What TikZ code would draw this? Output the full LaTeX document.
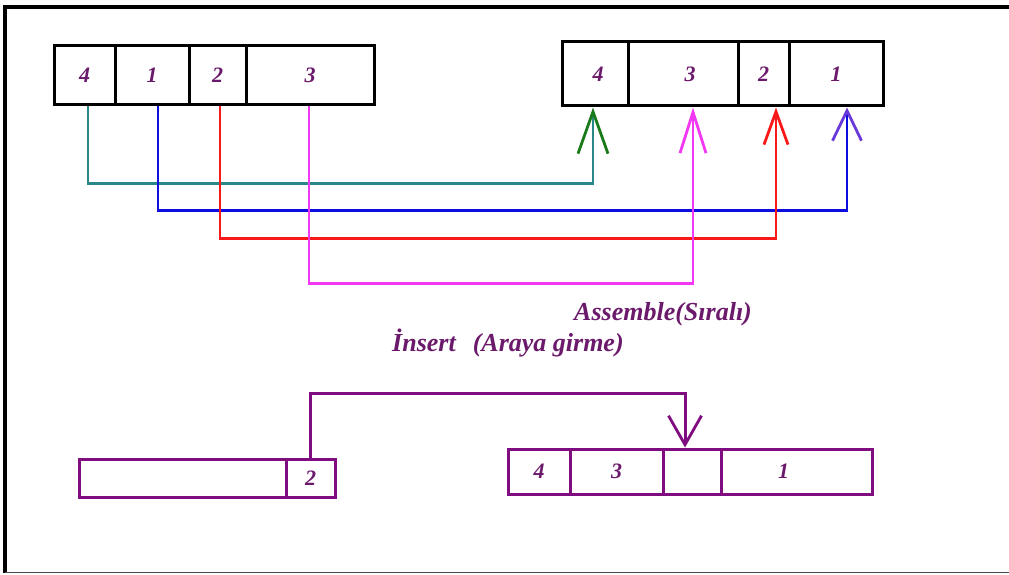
\documentclass[tikz,border=0pt]{standalone}
\usepackage{fontspec}
\setmainfont{Liberation Serif}
\usetikzlibrary{arrows.meta}
\definecolor{numpurple}{rgb}{0.42,0.10,0.42}
\definecolor{linepurple}{rgb}{0.50,0.05,0.50}
\definecolor{tealc}{rgb}{0.16,0.53,0.53}
\definecolor{greenhead}{rgb}{0.10,0.48,0.10}
\definecolor{bluec}{rgb}{0.05,0.05,0.88}
\definecolor{violethead}{rgb}{0.42,0.22,0.85}
\definecolor{redc}{rgb}{0.98,0.10,0.10}
\definecolor{magc}{rgb}{0.95,0.22,0.95}
\tikzset{
  x=1pt, y=-1pt,
  num/.style={font=\fontsize{22}{22}\selectfont\bfseries\itshape, text=numpurple},
  cell/.style={draw=black, line width=3pt, rectangle, inner sep=0pt, num},
  pcell/.style={draw=linepurple, line width=3pt, rectangle, inner sep=0pt, num},
  caption/.style={font=\fontsize{26}{26}\selectfont\bfseries\itshape, text=numpurple, inner sep=0pt},
  wire/.style={line width=2.8pt},
  head/.style n args={4}{-{Straight Barb[length=#1, width=#2, line width=2.8pt, color=#3]}, draw=#4}
}
\begin{document}
\begin{tikzpicture}
\useasboundingbox (0,0) rectangle (1009,575);
% page frame
\draw[line width=3.2pt] (1009,7) -- (5,7) -- (5,573);
\draw[line width=1.6pt, black!70] (5,572.5) -- (1009,572.5);

% source record (top left)
\node[cell, minimum width=61, minimum height=59] (L4) at (84.5,75.5) {4};
\node[cell, minimum width=74, minimum height=59] (L1) at (152,75.5) {1};
\node[cell, minimum width=57, minimum height=59] (L2) at (217.5,75.5) {2};
\node[cell, minimum width=128, minimum height=59] (L3) at (310,75.5) {3};

% assembled record (top right)
\node[cell, minimum width=66, minimum height=64, label={[num, xshift=3]center:4}] (R4) at (595,74) {};
\node[cell, minimum width=110, minimum height=64, label={[num, xshift=7]center:3}] (R3) at (683,74) {};
\node[cell, minimum width=51, minimum height=64] (R2) at (763.5,74) {2};
\node[cell, minimum width=94, minimum height=64] (R1) at (836,74) {1};

% field moves
\draw[wire, head={42}{30}{greenhead}{tealc}] ([xshift=3.5]L4.south) -- ++(0,77) -| ([xshift=-2]R4.south);
\draw[wire, head={30}{29}{violethead}{bluec}] ([xshift=6]L1.south) -- ++(0,104) -| ([xshift=11]R1.south);
\draw[wire, head={33}{24}{redc}{redc}] ([xshift=2.5]L2.south) -- ++(0,132) -| ([xshift=12.5]R2.south);
\draw[wire, head={41}{26}{magc}{magc}] ([xshift=-1]L3.south) -- ++(0,177) -| ([xshift=10]R3.south);

% captions
\node[caption, anchor=west] (asm) at (574,314) {Assemble(Sıralı)};
\node[caption, anchor=west] (ins) at (392,343) {İnsert\hspace{17pt}(Araya girme)};

% insert: source buffer (bottom left)
\node[pcell, minimum width=207, minimum height=38] (B0) at (182.5,478) {};
\node[pcell, minimum width=49, minimum height=38] (B2) at (310.5,478) {2};

% insert: target record (bottom right)
\node[pcell, minimum width=62, minimum height=45] (C4) at (539,471.5) {4};
\node[pcell, minimum width=93, minimum height=45] (C3) at (616.5,471.5) {3};
\node[pcell, minimum width=58, minimum height=45] (C2) at (692,471.5) {};
\node[pcell, minimum width=151, minimum height=45, label={[num, xshift=-13]center:1}] (C1) at (796.5,471.5) {};

\draw[wire, line width=3pt, head={29}{33}{linepurple}{linepurple}] (B2.north) -- ++(0,-64) -| ([xshift=-7]C2.north);
\end{tikzpicture}
\end{document}
